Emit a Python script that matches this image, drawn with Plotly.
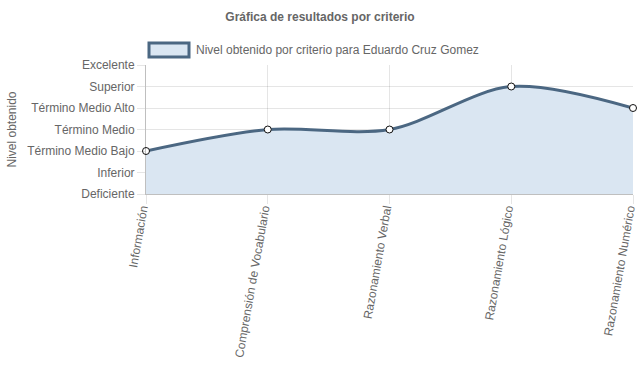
import plotly.graph_objects as go

categories = ["Información", "Comprensión de Vocabulario", "Razonamiento Verbal",
              "Razonamiento Lógico", "Razonamiento Numérico"]
levels = ["Deficiente", "Inferior", "Término Medio Bajo", "Término Medio",
          "Término Medio Alto", "Superior", "Excelente"]
values = [2, 3, 3, 5, 4]
series_name = "Nivel obtenido por criterio para Eduardo Cruz Gomez"

x_idx = list(range(len(categories)))
font_family = "Liberation Sans, Arial, sans-serif"

W, H = 637, 389
L, R, T, B = 146, 4, 65, 195

line_color = "#4b6782"
fill_color = "rgba(218,230,242,1)"

fig = go.Figure()
fig.add_trace(go.Scatter(
    x=x_idx, y=values, name=series_name,
    mode="lines+markers",
    line=dict(color=line_color, width=3, shape="spline", smoothing=0.9),
    fill="tozeroy", fillcolor=fill_color,
    marker=dict(size=7, color="white", line=dict(color="#111", width=1)),
    cliponaxis=False, showlegend=False,
))

# window-pixel -> paper coords
def px_x(p):
    return (p - L) / (W - L - R)

def px_y(p):
    return 1 - (p - T) / (H - T - B)

# legend drawn as box + text
fig.add_shape(type="rect", xref="paper", yref="paper",
              x0=px_x(149), x1=px_x(189), y0=px_y(57), y1=px_y(43),
              fillcolor=fill_color, line=dict(color=line_color, width=3))
fig.add_annotation(xref="paper", yref="paper", x=px_x(194), y=px_y(50),
                   xanchor="left", yanchor="middle", showarrow=False,
                   text=series_name, font=dict(size=12, color="#666"))

fig.update_layout(
    width=W, height=H,
    margin=dict(l=L, r=R, t=T, b=B),
    paper_bgcolor="white", plot_bgcolor="white",
    font=dict(family=font_family, size=12, color="#666"),
    title=dict(text="<b>Gráfica de resultados por criterio</b>",
               x=320 / W, xanchor="center",
               y=1 - 17 / H, yanchor="middle", font=dict(size=12, color="#666")),
    showlegend=False,
)

fig.update_xaxes(
    range=[0, 4], tickvals=x_idx, ticktext=categories, tickangle=-80,
    showgrid=True, gridcolor="rgba(0,0,0,0.1)", gridwidth=1,
    ticks="outside", ticklen=9, tickcolor="rgba(0,0,0,0.1)",
    ticklabelstandoff=-7, ticklabelshift=-4, ticklabeloverflow="allow",
    showline=True, linecolor="rgba(0,0,0,0.25)", linewidth=1,
    zeroline=False, tickfont=dict(size=12, color="#666"), automargin=False,
)
fig.update_yaxes(
    range=[0, 6], tickvals=list(range(len(levels))), ticktext=levels,
    showgrid=True, gridcolor="rgba(0,0,0,0.1)", gridwidth=1,
    ticks="outside", ticklen=8, tickcolor="rgba(0,0,0,0.1)",
    ticklabeloverflow="allow",
    showline=True, linecolor="rgba(0,0,0,0.25)", linewidth=1,
    zeroline=False, tickfont=dict(size=12, color="#666"), automargin=False,
    title=dict(text="Nivel obtenido", font=dict(size=12, color="#666"), standoff=8),
)

fig.write_html(
    "out.html",
    config={"displayModeBar": False},
    post_script="document.body.style.margin='0';document.body.style.overflow='hidden';",
)
